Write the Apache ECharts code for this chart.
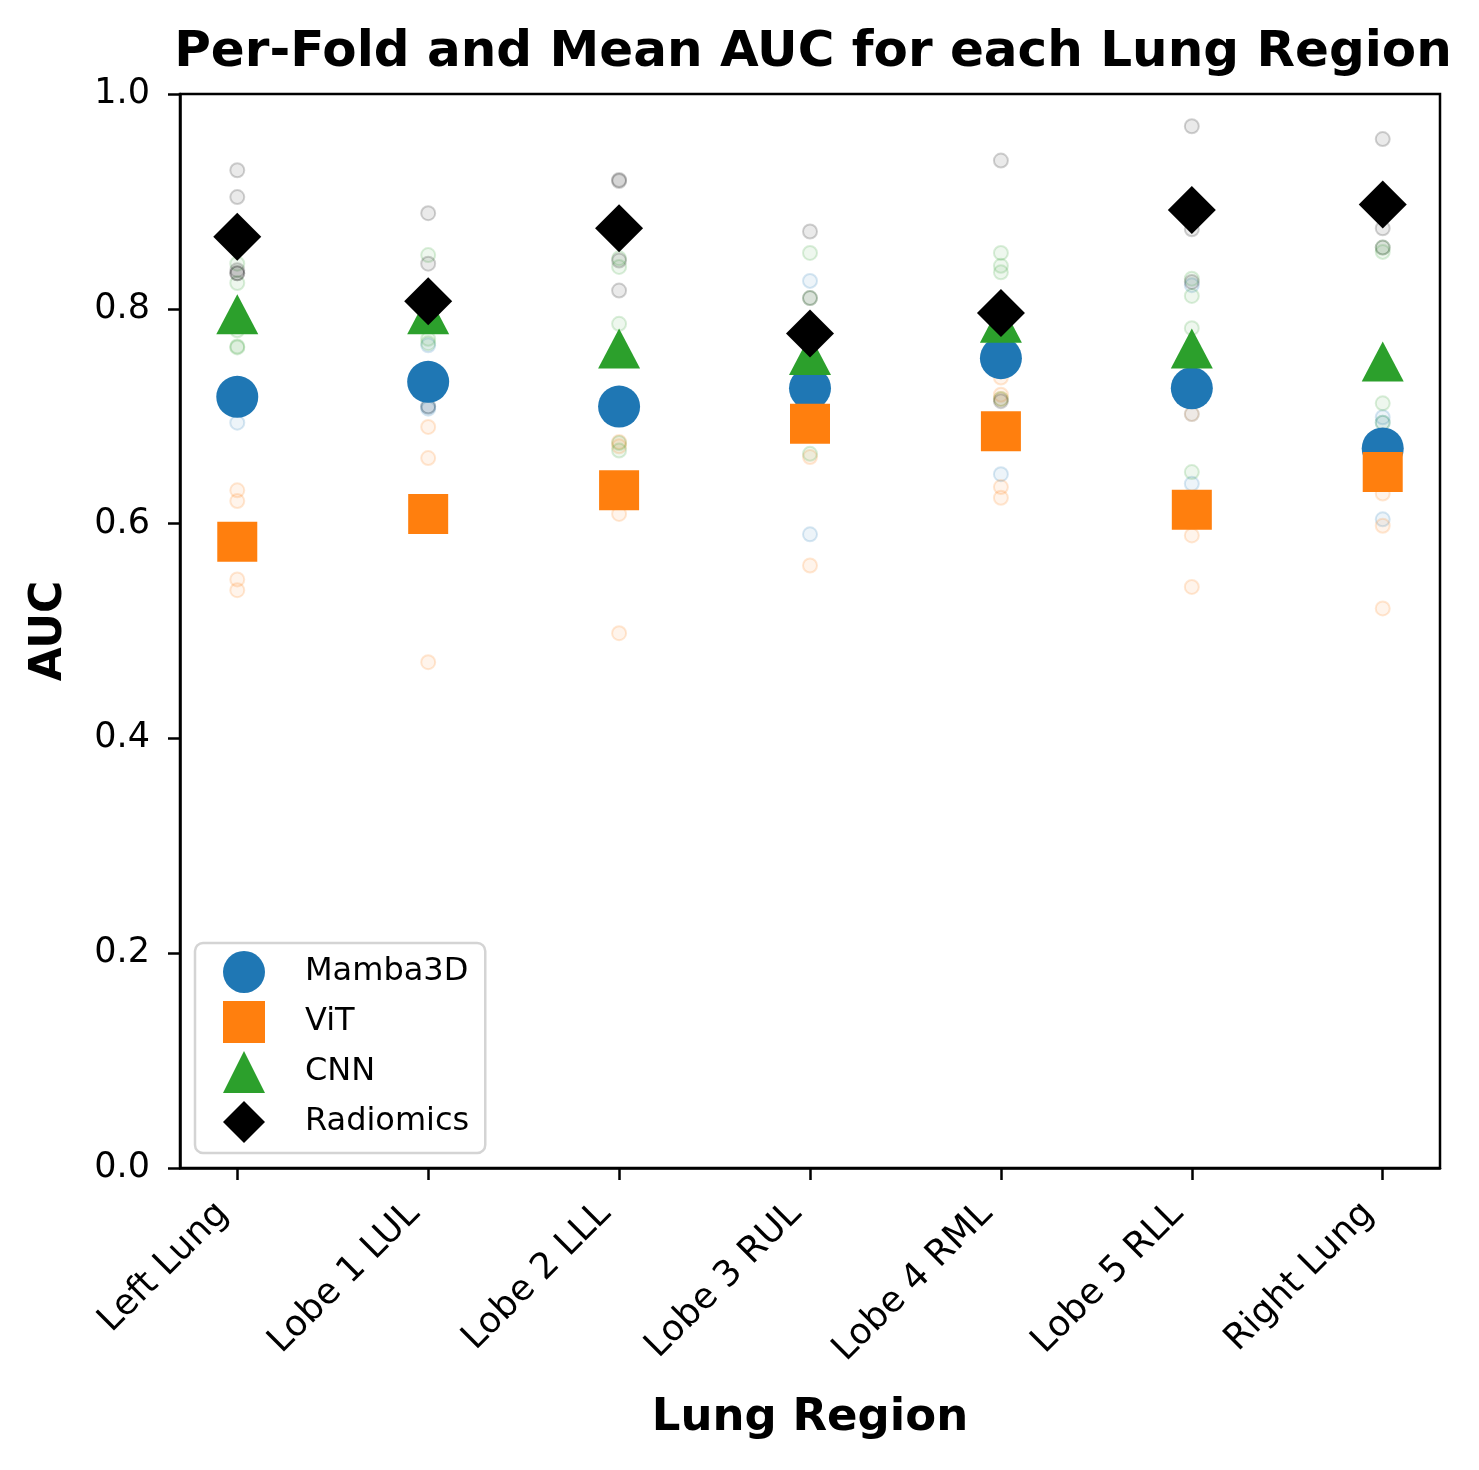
<!DOCTYPE html>
<html>
<head>
<meta charset="utf-8">
<script src="https://cdn.jsdelivr.net/npm/echarts@6/dist/echarts.min.js"></script>
<style>
html,body{margin:0;padding:0;background:#fff;}
#chart{width:1479px;height:1470px;}
</style>
</head>
<body>
<div id="chart"></div>
<script>
const categories = ['Left Lung','Lobe 1 LUL','Lobe 2 LLL','Lobe 3 RUL','Lobe 4 RML','Lobe 5 RLL','Right Lung'];
const yTicks = [0.0, 0.2, 0.4, 0.6, 0.8, 1.0];

const mambaMean = [0.718, 0.732, 0.709, 0.726, 0.754, 0.726, 0.670];
const vitMean   = [0.583, 0.609, 0.631, 0.693, 0.686, 0.613, 0.648];
const cnnMean   = [0.795, 0.795, 0.763, 0.757, 0.787, 0.763, 0.751];
const radMean   = [0.867, 0.807, 0.875, 0.777, 0.796, 0.892, 0.897];

const mambaFolds = [
  [0.694, 0.712, 0.725, 0.730, 0.729],
  [0.766, 0.709, 0.707, 0.735, 0.743],
  [0.700, 0.715, 0.712, 0.703, 0.715],
  [0.826, 0.590, 0.745, 0.735, 0.734],
  [0.646, 0.790, 0.780, 0.775, 0.779],
  [0.822, 0.702, 0.637, 0.738, 0.731],
  [0.699, 0.604, 0.694, 0.680, 0.673]
];
const vitFolds = [
  [0.631, 0.621, 0.548, 0.538, 0.577],
  [0.690, 0.661, 0.471, 0.612, 0.611],
  [0.676, 0.672, 0.498, 0.700, 0.609],
  [0.561, 0.662, 0.745, 0.750, 0.747],
  [0.634, 0.624, 0.716, 0.720, 0.736],
  [0.702, 0.589, 0.541, 0.618, 0.615],
  [0.628, 0.598, 0.521, 0.745, 0.748]
];
const cnnFolds = [
  [0.842, 0.824, 0.764, 0.780, 0.765],
  [0.850, 0.772, 0.800, 0.785, 0.768],
  [0.847, 0.839, 0.786, 0.675, 0.668],
  [0.852, 0.810, 0.665, 0.730, 0.728],
  [0.852, 0.840, 0.834, 0.716, 0.693],
  [0.828, 0.812, 0.782, 0.648, 0.745],
  [0.857, 0.853, 0.712, 0.694, 0.639]
];
const radFolds = [
  [0.929, 0.904, 0.836, 0.833, 0.833],
  [0.889, 0.842, 0.709, 0.800, 0.795],
  [0.920, 0.919, 0.817, 0.845, 0.874],
  [0.872, 0.810, 0.740, 0.733, 0.730],
  [0.938, 0.714, 0.780, 0.775, 0.773],
  [0.970, 0.874, 0.825, 0.895, 0.896],
  [0.958, 0.875, 0.857, 0.897, 0.898]
];

const models = [
  {name:'Mamba3D', mean:mambaMean, folds:mambaFolds, rgb:[31,119,180], symbol:'circle', size:42},
  {name:'ViT', mean:vitMean, folds:vitFolds, rgb:[255,127,14], symbol:'rect', size:40},
  {name:'CNN', mean:cnnMean, folds:cnnFolds, rgb:[44,160,44], symbol:'triangle', size:[42,40]},
  {name:'Radiomics', mean:radMean, folds:radFolds, rgb:[0,0,0], symbol:'diamond', size:[48,48]}
];

const FONT = 'DejaVu Sans';
const series = [];
models.forEach(m => {
  const c = m.rgb.join(',');
  series.push({
    name: m.name + ' folds',
    type: 'scatter',
    symbol: 'circle',
    symbolSize: 14,
    z: 2,
    silent: true,
    data: m.folds.flatMap((arr, i) => arr.map(v => [i, v])),
    itemStyle: {color: 'rgba(' + c + ',0.10)', borderColor: 'rgba(' + c + ',0.22)', borderWidth: 2}
  });
});
models.forEach((m, k) => {
  const c = 'rgb(' + m.rgb.join(',') + ')';
  series.push({
    name: m.name,
    type: 'scatter',
    symbol: m.symbol,
    symbolSize: m.size,
    z: 3 + k,
    data: m.mean.map((v, i) => [i, v]),
    itemStyle: {color: c, opacity: 1}
  });
});

const chart = echarts.init(document.getElementById('chart'), null, {renderer: 'canvas'});
chart.setOption({
  animation: false,
  backgroundColor: '#fff',
  textStyle: {fontFamily: FONT},
  title: {
    text: 'Per-Fold and Mean AUC for each Lung Region',
    left: 808, top: 23, textAlign: 'center',
    textStyle: {fontFamily: FONT, fontWeight: 'bold', fontSize: 50, color: '#000'}
  },
  grid: {left: 180, right: 39, top: 94, bottom: 302, show: true, borderColor: '#000', borderWidth: 2.5, backgroundColor: 'transparent'},
  legend: {
    data: ['Mamba3D', 'ViT', 'CNN', 'Radiomics'],
    orient: 'vertical',
    left: 195, top: 943,
    padding: [8, 16, 10, 28],
    itemWidth: 42, itemHeight: 42, itemGap: 8,
    backgroundColor: '#fff',
    borderColor: '#d4d4d4', borderWidth: 2.5, borderRadius: 8,
    textStyle: {fontFamily: FONT, fontSize: 32, color: '#000', padding: [0, 0, 0, 35]},
    selectedMode: false
  },
  xAxis: {
    type: 'value', min: -0.3, max: 6.3,
    name: 'Lung Region', nameLocation: 'middle', nameGap: 228,
    nameTextStyle: {fontFamily: FONT, fontWeight: 'bold', fontSize: 45, color: '#000'},
    axisLine: {show: true, onZero: false, lineStyle: {color: '#000', width: 2.5}},
    axisTick: {show: true, customValues: [0,1,2,3,4,5,6], length: 12, lineStyle: {color: '#000', width: 2.5}},
    axisLabel: {
      customValues: [0,1,2,3,4,5,6], rotate: 45, margin: 26,
      fontFamily: FONT, fontSize: 36, color: '#000', padding: [0, 20, 0, 0],
      formatter: v => categories[Math.round(v)]
    },
    splitLine: {show: false}
  },
  yAxis: {
    type: 'value', min: 0, max: 1, interval: 0.2,
    name: 'AUC', nameLocation: 'middle', nameGap: 108, nameRotate: 90,
    nameTextStyle: {fontFamily: FONT, fontWeight: 'bold', fontSize: 44, color: '#000'},
    axisLine: {show: true, onZero: false, lineStyle: {color: '#000', width: 2.5}},
    axisTick: {show: true, length: 12, lineStyle: {color: '#000', width: 2.5}},
    axisLabel: {
      margin: 30, fontFamily: FONT, fontSize: 35, color: '#000',
      formatter: v => Number(v).toFixed(1)
    },
    splitLine: {show: false}
  },
  series: series
});
</script>
</body>
</html>
